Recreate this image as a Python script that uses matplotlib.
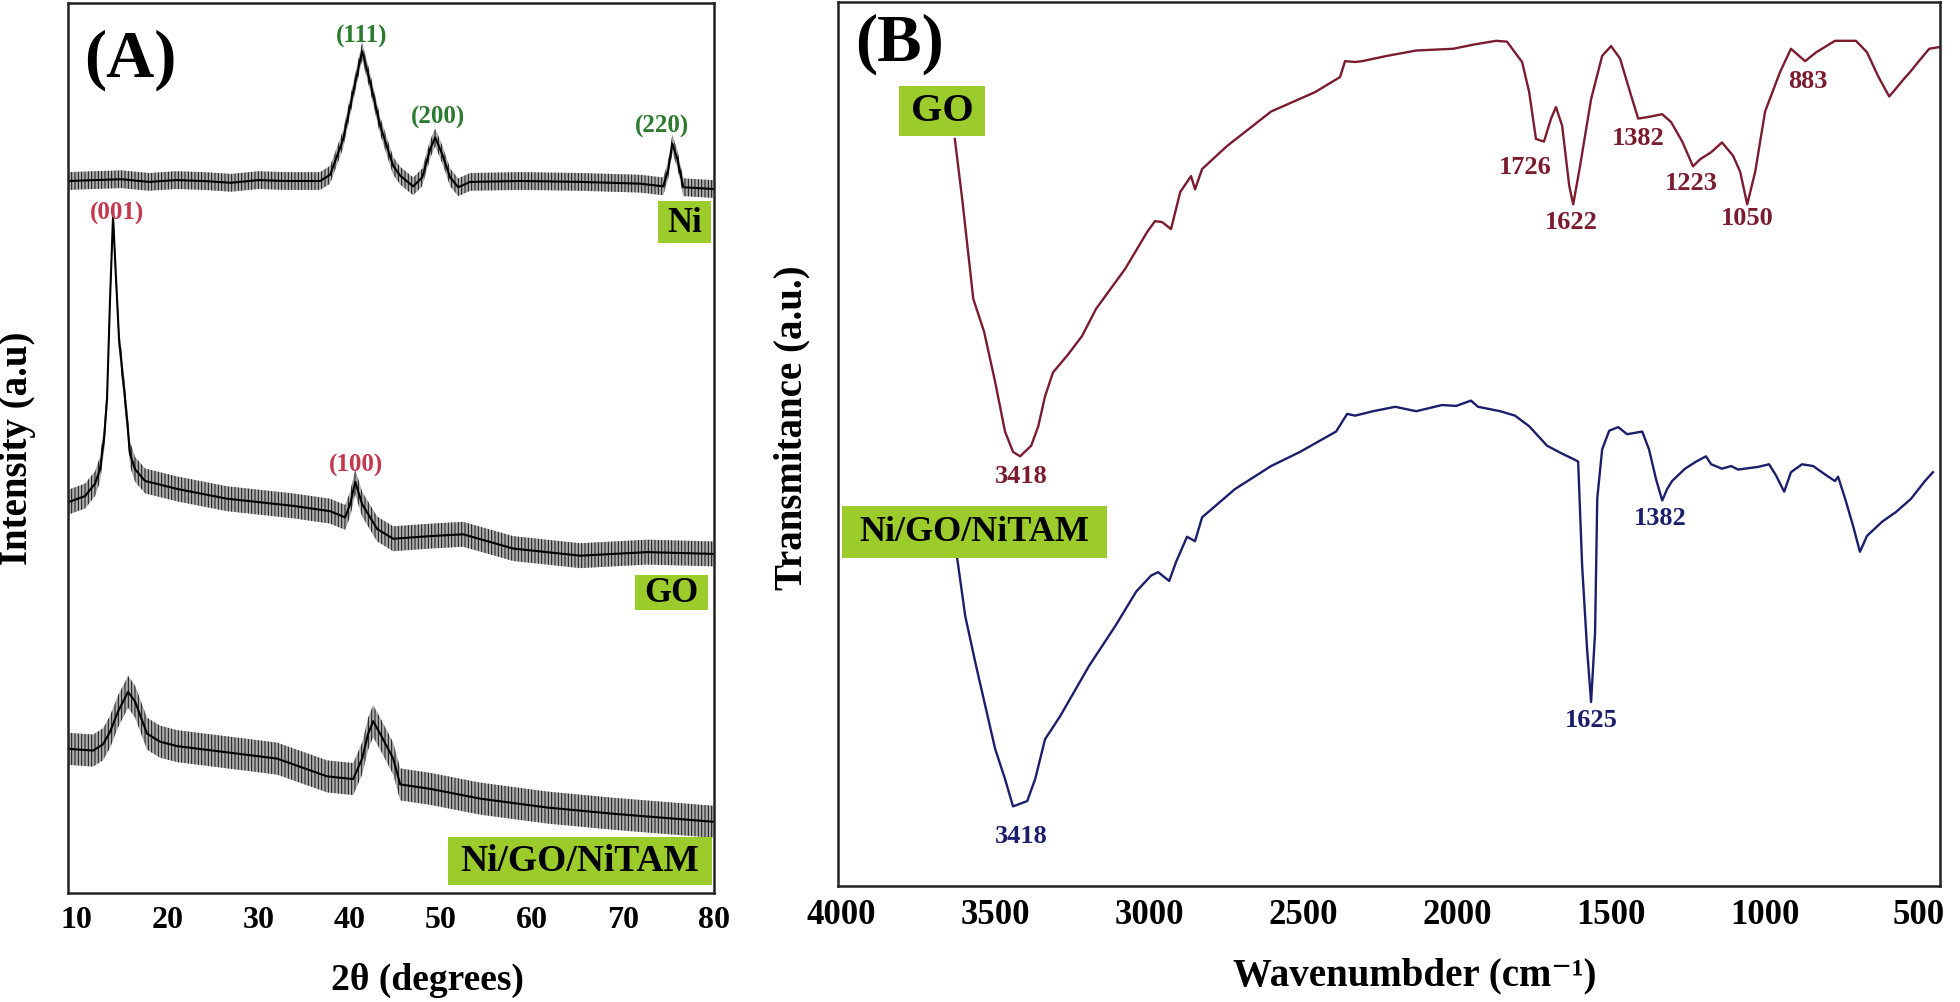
import matplotlib
matplotlib.use('Agg')
import matplotlib.pyplot as plt
from matplotlib.patches import Rectangle

plt.rcParams['font.family'] = ['Liberation Serif', 'DejaVu Serif']
plt.rcParams['font.weight'] = 'bold'
plt.rcParams['hatch.linewidth'] = 0.7

# ---- (A) XRD patterns, 2theta in degrees, intensity in a.u. ----
ni_2theta = [9.12, 12.0, 15.0, 18.0, 21.0, 24.0, 27.0, 30.0, 33.0, 36.78, 37.88, 39.31,
             40.41, 41.39, 42.27, 43.37, 44.80, 45.57, 46.99, 47.98, 48.86, 49.41, 50.18,
             51.05, 51.93, 53.25, 58.74, 65.32, 71.91, 74.43, 74.98, 75.42, 75.97, 76.63, 79.92]
ni_int = [80.0, 80.1, 80.2, 79.9, 80.1, 80.0, 79.8, 80.1, 80.0, 80.0, 80.7, 84.7,
          90.0, 94.6, 91.1, 86.2, 81.7, 80.6, 79.4, 80.4, 83.6, 84.9, 83.0,
          80.4, 79.3, 79.9, 80.0, 79.9, 79.7, 79.4, 81.3, 84.2, 82.5, 79.3, 79.1]

go_2theta = [9.12, 10.99, 12.09, 12.63, 13.07, 13.40, 13.73, 14.06, 14.39, 14.72, 15.05,
             15.49, 15.93, 16.48, 17.57, 21.09, 26.58, 33.82, 37.88, 39.53, 40.08, 40.63,
             41.39, 43.04, 44.80, 48.86, 52.48, 57.97, 65.32, 72.68, 79.92]
go_int = [43.9, 44.6, 46.0, 47.6, 51.0, 55.5, 66.7, 76.0, 69.0, 62.2, 58.9,
          54.4, 49.3, 47.6, 46.3, 45.4, 44.3, 43.5, 42.9, 42.2, 43.7, 46.2,
          43.7, 40.9, 39.8, 40.1, 40.3, 38.7, 37.9, 38.3, 38.1]

nitam_2theta = [9.12, 11.87, 12.96, 13.73, 14.61, 15.71, 16.48, 17.79, 19.22, 21.09, 26.58,
                32.06, 37.55, 40.41, 41.39, 42.05, 42.60, 43.37, 44.80, 45.57, 48.86,
                54.35, 61.70, 68.95, 79.92]
nitam_int = [16.2, 16.0, 16.7, 18.1, 20.4, 22.6, 21.5, 17.9, 17.0, 16.5, 15.8,
             15.1, 13.1, 12.8, 15.1, 17.9, 19.3, 17.9, 15.1, 12.2, 11.7,
             10.6, 9.6, 8.9, 8.0]

# spread of the noisy traces (half band height, a.u.)
ni_spread = 1.0
go_spread = 1.4
nitam_spread = 1.8

xrd_ticks = [10, 20, 30, 40, 50, 60, 70, 80]
xrd_peaks = [('(111)', 41.28, 96.3, 'g'), ('(200)', 49.73, 87.2, 'g'),
             ('(220)', 74.33, 86.2, 'g'), ('(001)', 14.5, 76.5, 'r'),
             ('(100)', 40.74, 48.2, 'r')]

# ---- (B) FTIR spectra, wavenumber in cm-1, transmittance in a.u. ----
go_wn = [3631, 3607, 3571, 3536, 3500, 3468, 3442, 3419, 3383, 3360, 3338, 3312, 3266,
         3218, 3172, 3078, 3006, 2981, 2958, 2929, 2899, 2864, 2851, 2828, 2747, 2604,
         2461, 2380, 2364, 2331, 2308, 2227, 2133, 2013, 1942, 1873, 1838, 1789, 1766,
         1744, 1718, 1695, 1679, 1659, 1636, 1623, 1601, 1565, 1529, 1500, 1471, 1435,
         1412, 1377, 1334, 1305, 1269, 1234, 1211, 1175, 1140, 1104, 1081, 1058, 1032,
         1000, 951, 916, 870, 834, 773, 705, 669, 633, 597, 575, 549, 526, 503, 467, 432]
go_tr = [84.5, 77.7, 66.4, 62.7, 57.0, 51.4, 49.1, 48.6, 49.8, 52.0, 55.4, 58.1, 60.0,
         62.2, 65.3, 69.8, 74.0, 75.2, 75.1, 74.3, 78.5, 80.3, 78.8, 81.1, 83.7, 87.6,
         89.8, 91.5, 93.3, 93.2, 93.3, 93.9, 94.5, 94.7, 95.2, 95.6, 95.5, 93.2, 89.8,
         84.5, 84.2, 86.8, 88.1, 86.0, 79.2, 77.1, 81.4, 89.0, 93.9, 95.0, 93.6, 89.4,
         86.8, 87.0, 87.3, 86.4, 84.2, 81.4, 82.2, 83.0, 84.1, 82.6, 80.8, 77.1, 80.8,
         87.6, 92.1, 94.7, 93.3, 94.3, 95.6, 95.6, 94.3, 91.6, 89.3, 90.2, 91.3, 92.2, 93.2, 94.7, 94.9]

nitam_wn = [3623, 3597, 3562, 3500, 3468, 3442, 3396, 3370, 3338, 3289, 3195, 3110, 3042,
            2994, 2971, 2935, 2912, 2877, 2851, 2828, 2721, 2604, 2510, 2393, 2357, 2331,
            2273, 2201, 2133, 2049, 2003, 1955, 1932, 1860, 1812, 1766, 1708, 1659, 1623,
            1607, 1594, 1578, 1565, 1552, 1545, 1529, 1506, 1477, 1448, 1399, 1377, 1354,
            1334, 1318, 1302, 1260, 1224, 1192, 1175, 1140, 1110, 1088, 1023, 987, 964,
            938, 916, 880, 844, 799, 773, 763, 740, 714, 692, 669, 620, 575, 526, 481, 455]
nitam_tr = [37.0, 30.5, 24.9, 15.5, 12.1, 9.0, 9.6, 12.1, 16.6, 19.2, 24.9, 29.4, 33.3,
            35.1, 35.5, 34.5, 36.7, 39.5, 39.0, 41.7, 44.9, 47.5, 49.1, 51.4, 53.4, 53.2,
            53.7, 54.2, 53.7, 54.4, 54.3, 54.9, 54.2, 53.7, 53.2, 52.0, 49.8, 48.9, 48.3,
            48.0, 36.2, 26.8, 20.8, 28.7, 43.8, 49.4, 51.5, 51.9, 51.1, 51.4, 49.4, 46.0,
            43.6, 44.9, 45.8, 47.2, 48.0, 48.6, 47.7, 47.2, 47.5, 47.1, 47.4, 47.7, 46.4,
            44.6, 46.8, 47.7, 47.5, 46.4, 45.8, 46.3, 43.8, 40.7, 37.8, 39.6, 41.2, 42.3, 43.8, 45.8, 46.8]

ftir_ticks = [4000, 3500, 3000, 2500, 2000, 1500, 1000, 500]
go_peaks = [('1726', 1779, 81.4), ('1622', 1630, 75.2), ('1382', 1412, 84.7),
            ('1223', 1240, 79.6), ('1050', 1058, 75.6), ('883', 860, 91.1),
            ('3418', 3416, 46.4)]
nitam_peaks = [('1625', 1565, 18.8), ('1382', 1341, 41.7), ('3418', 3416, 5.7)]

GREEN_BOX = '#9ccc2c'
LBL_GREEN = '#2b7a2e'
LBL_RED = '#c3384c'
GO_COLOR = '#7b1c2e'
NITAM_COLOR = '#1b1f6b'


def tag(ax, x0, y0, w, h, txt, size):
    ax.add_patch(Rectangle((x0, y0), w, h, transform=ax.transAxes,
                           facecolor=GREEN_BOX, edgecolor='none', zorder=3))
    ax.text(x0 + w / 2, y0 + h / 2, txt, transform=ax.transAxes, ha='center',
            va='center', fontsize=size, fontweight='bold', color='black', zorder=4)


def noisy(ax, x, y, spread):
    lo = [v - spread for v in y]
    hi = [v + spread for v in y]
    ax.fill_between(x, lo, hi, facecolor='#777777', alpha=0.6, lw=0)
    ax.fill_between(x, lo, hi, facecolor='none', edgecolor='#111111', hatch='|||||', lw=0)
    ax.plot(x, y, color='black', lw=1.5)


fig = plt.figure(figsize=(19.6, 10.03), dpi=100)
axA = fig.add_axes([0.0347, 0.1087, 0.3296, 0.8873])
axB = fig.add_axes([0.4276, 0.1157, 0.5622, 0.8814])

# panel A
noisy(axA, ni_2theta, ni_int, ni_spread)
noisy(axA, go_2theta, go_int, go_spread)
noisy(axA, nitam_2theta, nitam_int, nitam_spread)
for txt, x, y, c in xrd_peaks:
    axA.text(x, y, txt, ha='center', va='center', fontsize=18, fontweight='bold',
             color=LBL_GREEN if c == 'g' else LBL_RED)
axA.set_xlim(9.12, 80.0)
axA.set_ylim(0, 100)
axA.set_xticks(xrd_ticks)
axA.set_yticks([])
axA.tick_params(axis='x', length=0, pad=9, labelsize=23)
axA.set_xlabel('2θ (degrees)', fontsize=27, fontweight='bold')
axA.xaxis.set_label_coords(0.556, -0.077)
axA.set_ylabel('Intensity (a.u)', fontsize=28, fontweight='bold')
axA.yaxis.set_label_coords(-0.050, 0.501)
axA.text(0.096, 0.937, '(A)', transform=axA.transAxes, ha='center', va='center',
         fontsize=48, fontweight='bold')
tag(axA, 0.9133, 0.7303, 0.0820, 0.0472, 'Ni', 25)
tag(axA, 0.8777, 0.3180, 0.1130, 0.0393, 'GO', 25)
tag(axA, 0.5882, 0.0090, 0.4087, 0.0540, 'Ni/GO/NiTAM', 27)

# panel B
axB.plot(go_wn, go_tr, color=GO_COLOR, lw=1.7)
axB.plot(nitam_wn, nitam_tr, color=NITAM_COLOR, lw=1.7)
for txt, x, y in go_peaks:
    axB.text(x, y, txt, ha='center', va='center', fontsize=19, fontweight='bold',
             color=GO_COLOR)
for txt, x, y in nitam_peaks:
    axB.text(x, y, txt, ha='center', va='center', fontsize=19, fontweight='bold',
             color=NITAM_COLOR)
axB.set_xlim(4010, 432)
axB.set_ylim(0, 100)
axB.set_xticks(ftir_ticks)
axB.set_yticks([])
axB.tick_params(axis='x', length=0, pad=9, labelsize=25)
axB.set_xlabel('Wavenumbder (cm⁻¹)', fontsize=28, fontweight='bold')
axB.xaxis.set_label_coords(0.5236, -0.080)
axB.set_ylabel('Transmitance (a.u.)', fontsize=28, fontweight='bold')
axB.yaxis.set_label_coords(-0.025, 0.519)
axB.text(0.0554, 0.9536, '(B)', transform=axB.transAxes, ha='center', va='center',
         fontsize=48, fontweight='bold')
tag(axB, 0.0554, 0.8484, 0.0780, 0.0566, 'GO', 29)
tag(axB, 0.0036, 0.3710, 0.2405, 0.0588, 'Ni/GO/NiTAM', 26)

for ax in (axA, axB):
    for s in ax.spines.values():
        s.set_linewidth(1.8)
        s.set_color('#222222')

fig.savefig('out.png', dpi=100)
